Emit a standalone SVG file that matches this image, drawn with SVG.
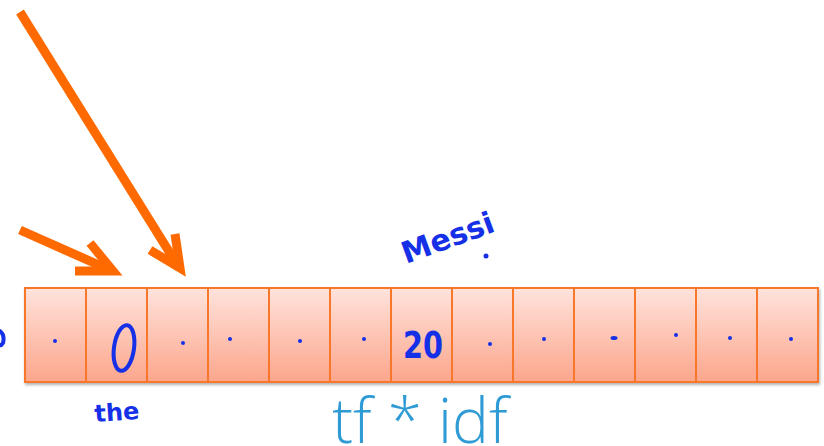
<svg xmlns="http://www.w3.org/2000/svg" width="824" height="446" viewBox="0 0 824 446">
<defs>
<linearGradient id="cellg" x1="0" y1="0" x2="0" y2="1">
<stop offset="0" stop-color="#ffe3dc"/>
<stop offset="1" stop-color="#fca68c"/>
</linearGradient>
<filter id="sh" x="-5%" y="-5%" width="110%" height="120%">
<feDropShadow dx="1" dy="2" stdDeviation="1.5" flood-color="#000" flood-opacity="0.3"/>
</filter>
</defs>
<style>
.cell{fill:url(#cellg);stroke:#f8772a;stroke-width:2}
.arrow{fill:none;stroke:#ff6a00;stroke-width:9;stroke-linecap:butt;stroke-linejoin:miter}
.hand{fill:#1530e6;font-family:"DejaVu Sans",sans-serif}
.ink{fill:none;stroke:#1530e6;stroke-width:4;stroke-linecap:round;stroke-linejoin:round}
.dot{fill:#1530e6}
.big{fill:#2e9bd4;font-family:"Open Sans","Liberation Sans",sans-serif;font-weight:300;font-size:62px}
</style>
<rect width="824" height="446" fill="#fff"/>
<g id="connectors">
<g id="arrow-long">
<line class="arrow" x1="20" y1="12" x2="178" y2="266"/>
<polyline class="arrow" points="150,250 180,268 175,234"/>
</g>
<g id="arrow-short">
<line class="arrow" x1="20" y1="230" x2="110" y2="270"/>
<polyline class="arrow" points="75,271 113,271 90,243"/>
</g>
</g>
<g id="vector" filter="url(#sh)">
<rect class="cell" x="25" y="288" width="61" height="94"/>
<rect class="cell" x="86" y="288" width="61" height="94"/>
<rect class="cell" x="147" y="288" width="61" height="94"/>
<rect class="cell" x="208" y="288" width="61" height="94"/>
<rect class="cell" x="269" y="288" width="61" height="94"/>
<rect class="cell" x="330" y="288" width="61" height="94"/>
<rect class="cell" x="391" y="288" width="61" height="94"/>
<rect class="cell" x="452" y="288" width="61" height="94"/>
<rect class="cell" x="513" y="288" width="61" height="94"/>
<rect class="cell" x="574" y="288" width="61" height="94"/>
<rect class="cell" x="635" y="288" width="61" height="94"/>
<rect class="cell" x="696" y="288" width="61" height="94"/>
<rect class="cell" x="757" y="288" width="61" height="94"/>
</g>
<g id="values">
<circle class="dot" cx="55" cy="341" r="2"/>
<ellipse class="ink" cx="124" cy="348" rx="10" ry="23" transform="rotate(8 124 348)"/>
<circle class="dot" cx="183" cy="343" r="2"/>
<circle class="dot" cx="230" cy="339" r="2"/>
<circle class="dot" cx="300" cy="341" r="2"/>
<circle class="dot" cx="364" cy="339" r="2"/>
<text class="hand" x="403" y="358" font-size="38" font-weight="bold" textLength="40" lengthAdjust="spacingAndGlyphs">20</text>
<circle class="dot" cx="490" cy="344" r="2"/>
<circle class="dot" cx="544" cy="339" r="2"/>
<ellipse class="dot" cx="614" cy="338" rx="3.5" ry="2"/>
<circle class="dot" cx="676" cy="335" r="2"/>
<circle class="dot" cx="730" cy="338" r="2"/>
<circle class="dot" cx="791" cy="339" r="2"/>
</g>
<g id="labels">
<path class="ink" d="M0,331 Q5,335 3,343 Q1,346 0,345"/>
<text class="hand" x="95" y="422" font-size="24" font-weight="bold" transform="rotate(-4 95 422)">the</text>
<text class="hand" x="406" y="264" font-size="30" font-weight="bold" transform="rotate(-20 406 264)">Messi</text>
<circle class="dot" cx="486" cy="256" r="2.5"/>
<text class="big" x="420" y="443" text-anchor="middle">tf * idf</text>
</g>
</svg>
